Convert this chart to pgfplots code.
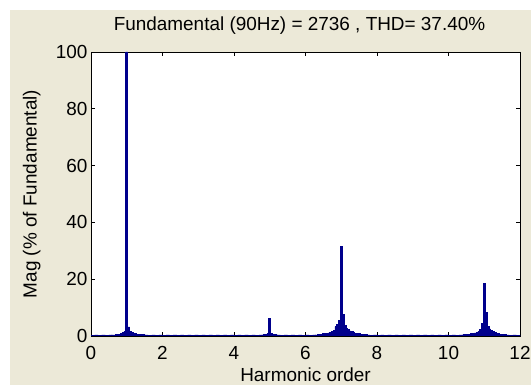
\documentclass[border=0pt]{standalone}
\usepackage{pgfplots}
\pgfplotsset{compat=1.18}
\usepackage{pgfplotstable}
\usepackage{fontspec}
\setmainfont{Liberation Sans}
\definecolor{bgbeige}{HTML}{ECE9D8}
\definecolor{barblue}{RGB}{0,0,140}

\pgfplotstableread{
x y
0.05 0.3
0.15 0.4
0.25 0.3
0.35 0.4
0.45 0.3
0.55 0.4
1.55 0.4
1.65 0.3
1.75 0.4
1.85 0.3
1.95 0.4
2.05 0.3
2.15 0.4
2.25 0.3
2.35 0.4
2.45 0.3
2.55 0.4
2.65 0.3
2.75 0.4
2.85 0.3
2.95 0.4
3.05 0.3
3.15 0.4
3.25 0.3
3.35 0.4
3.45 0.3
3.55 0.4
3.65 0.3
3.75 0.4
3.85 0.3
3.95 0.4
4.05 0.3
4.15 0.4
4.25 0.3
4.35 0.4
4.45 0.3
4.55 0.4
4.65 0.3
4.75 0.4
5.25 0.4
5.35 0.3
5.45 0.4
5.55 0.3
5.65 0.4
5.75 0.3
5.85 0.4
5.95 0.3
6.05 0.4
6.15 0.3
6.25 0.4
7.75 0.4
7.85 0.3
7.95 0.4
8.05 0.3
8.15 0.4
8.25 0.3
8.35 0.4
8.45 0.3
8.55 0.4
8.65 0.3
8.75 0.4
8.85 0.3
8.95 0.4
9.05 0.3
9.15 0.4
9.25 0.3
9.35 0.4
9.45 0.3
9.55 0.4
9.65 0.3
9.75 0.4
9.85 0.3
9.95 0.4
10.05 0.3
10.15 0.4
10.25 0.3
10.35 0.4
11.65 0.4
11.75 0.3
11.85 0.4
11.95 0.3
}\floordata

\pgfplotstableread{
x y
0.6 0.4
0.65 0.4
0.7 0.5
0.75 0.5
0.8 0.6
0.85 0.9
0.9 1.4
0.95 1.6
1.0 100
1.05 3.2
1.1 1.6
1.15 1.2
1.2 1.0
1.25 0.8
1.3 0.7
1.35 0.6
1.4 0.5
1.45 0.5
1.5 0.4
4.8 0.4
4.85 0.5
4.9 0.6
4.95 0.8
5.0 6.2
5.05 0.8
5.1 0.6
5.15 0.5
5.2 0.4
6.3 0.4
6.35 0.5
6.4 0.6
6.45 0.7
6.5 0.8
6.55 0.8
6.6 0.9
6.65 1.1
6.7 1.3
6.75 1.6
6.8 2.0
6.85 3.3
6.9 4.0
6.95 5.4
7.0 31.6
7.05 7.6
7.1 3.6
7.15 2.8
7.2 2.2
7.25 1.8
7.3 1.5
7.35 1.2
7.4 1.0
7.45 0.9
7.5 0.8
7.55 0.7
7.6 0.6
7.65 0.5
7.7 0.5
10.4 0.4
10.45 0.5
10.5 0.5
10.55 0.6
10.6 0.7
10.65 0.8
10.7 0.9
10.75 1.1
10.8 1.3
10.85 1.6
10.9 2.2
10.95 4.5
11.0 18.5
11.05 8.2
11.1 3.3
11.15 2.5
11.2 2.0
11.25 1.5
11.3 1.2
11.35 1.0
11.4 0.8
11.45 0.7
11.5 0.6
11.55 0.5
11.6 0.5
}\clusterdata

\begin{document}
\begin{tikzpicture}
\useasboundingbox (0bp,0bp) rectangle (531bp,385bp);
\fill[white] (0bp,0bp) rectangle (531bp,385bp);
\fill[bgbeige] (10bp,0bp) rectangle (531bp,375bp);
\begin{axis}[
  at={(91bp,49bp)}, anchor=south west,
  width=429bp, height=284bp, scale only axis,
  xmin=0, xmax=12, ymin=0, ymax=100,
  xtick={0,2,...,12}, ytick={0,20,...,100},
  axis background/.style={fill=white},
  tick align=inside, major tick length=4bp,
  xtick pos=both, ytick pos=both,
  xticklabel pos=lower, yticklabel pos=left,
  tick style={black, line width=0.6bp},
  axis line style={black, line width=0.8bp},
  font=\fontsize{19}{22}\selectfont,
  /pgf/number format/assume math mode=true,
  ticklabel style={font=\fontsize{19}{22}\selectfont},
  xticklabel style={anchor=base, inner sep=0pt, yshift=-23.3bp},
  title={Fundamental (90Hz) = 2736 , THD= 37.40\%},
  title style={at={(axis description cs:0.5,1)}, anchor=base, inner sep=0pt, yshift=16bp, xshift=-6bp, font=\fontsize{19}{22}\selectfont},
  xlabel={Harmonic order},
  ylabel={Mag (\% of Fundamental)},
  xlabel style={at={(axis description cs:0.5,0)}, anchor=base, inner sep=0pt, yshift=-45.7bp, font=\fontsize{19}{22}\selectfont},
  ylabel style={at={(axis description cs:-0.138,0.5)}, anchor=center, inner sep=0pt, font=\fontsize{19}{22}\selectfont},
  bar shift=0pt,
]
\addplot[ybar, bar width=0.1, fill=barblue, draw=barblue, line width=0.3bp] table {\floordata};
\addplot[ybar, bar width=0.055, fill=barblue, draw=barblue, line width=0.6bp] table {\clusterdata};
\end{axis}
\end{tikzpicture}
\end{document}
